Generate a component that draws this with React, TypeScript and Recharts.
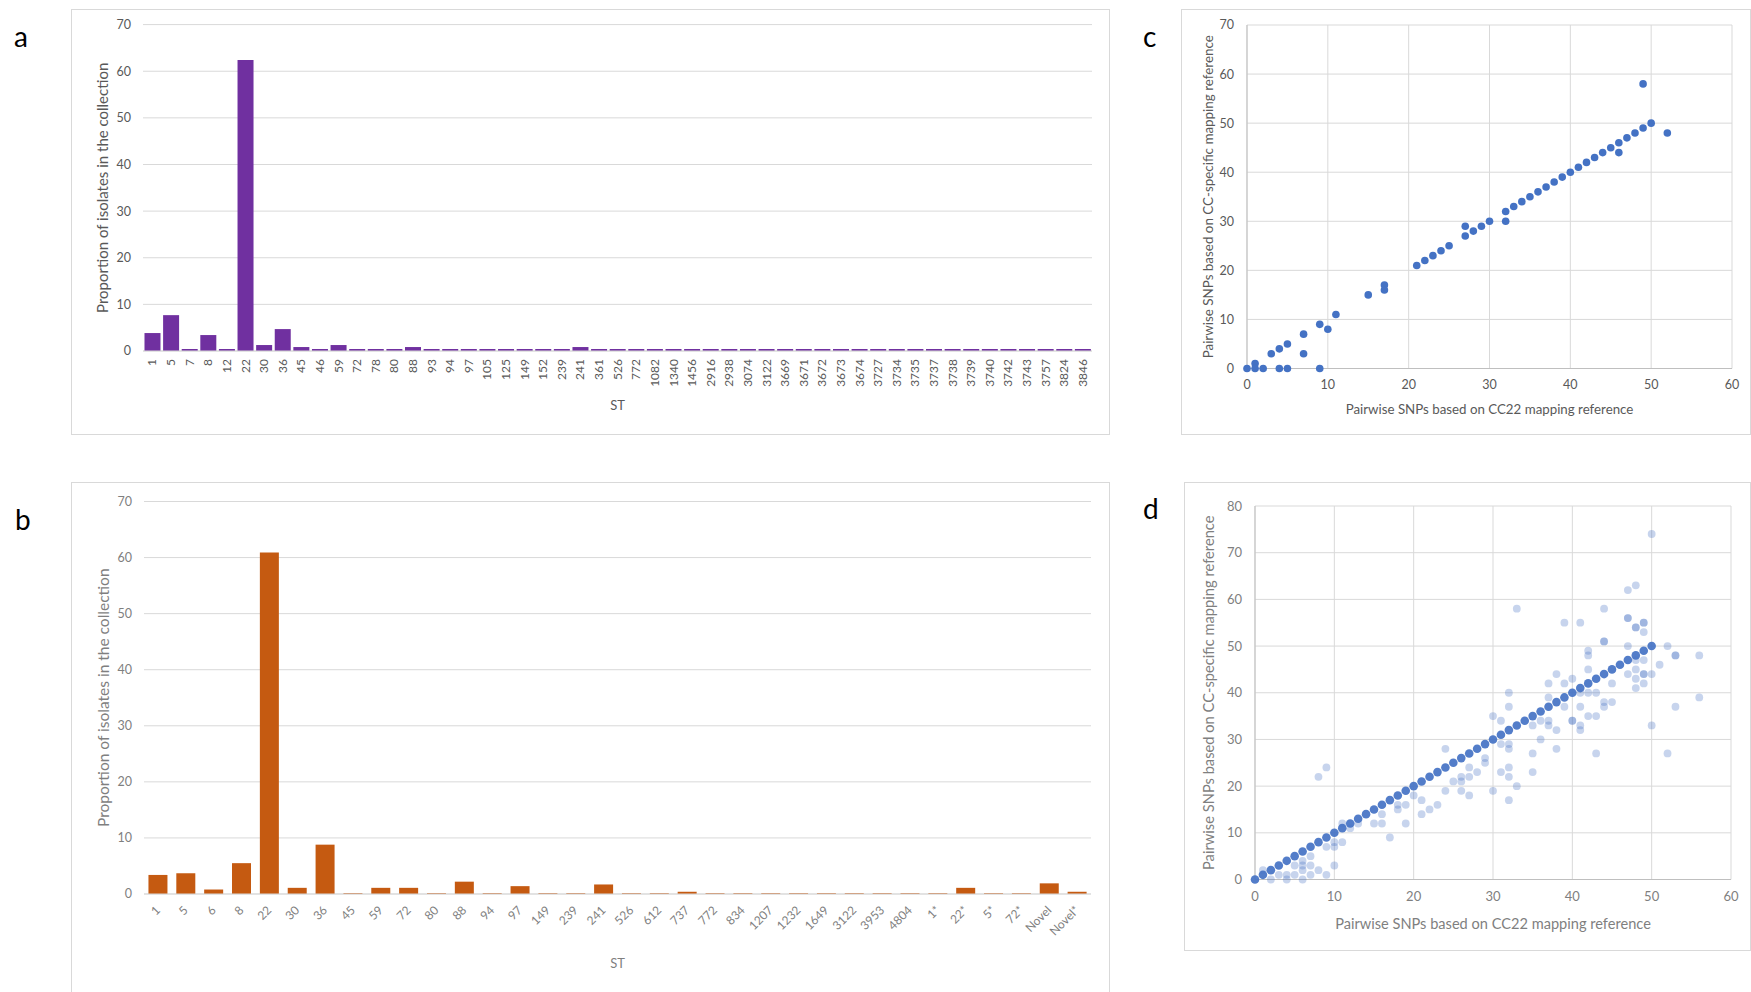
import React from "react";
import { BarChart, Bar, XAxis, YAxis, CartesianGrid, ScatterChart, Scatter, Label } from "recharts";

// panel a: ST distribution, collection 1
const stA = ['1', '5', '7', '8', '12', '22', '30', '36', '45', '46', '59', '72', '78', '80', '88', '93', '94', '97', '105', '125', '149', '152', '239', '241', '361', '526', '772', '1082', '1340', '1456', '2916', '2938', '3074', '3122', '3669', '3671', '3672', '3673', '3674', '3727', '3734', '3735', '3737', '3738', '3739', '3740', '3742', '3743', '3757', '3824', '3846'];
const pctA = [3.85, 7.69, 0.43, 3.42, 0.43, 62.39, 1.28, 4.7, 0.85, 0.43, 1.28, 0.43, 0.43, 0.43, 0.85, 0.43, 0.43, 0.43, 0.43, 0.43, 0.43, 0.43, 0.43, 0.85, 0.43, 0.43, 0.43, 0.43, 0.43, 0.43, 0.43, 0.43, 0.43, 0.43, 0.43, 0.43, 0.43, 0.43, 0.43, 0.43, 0.43, 0.43, 0.43, 0.43, 0.43, 0.43, 0.43, 0.43, 0.43, 0.43, 0.43];

// panel b: ST distribution, collection 2
const stB = ['1', '5', '6', '8', '22', '30', '36', '45', '59', '72', '80', '88', '94', '97', '149', '239', '241', '526', '612', '737', '772', '834', '1207', '1232', '1649', '3122', '3953', '4804', '1*', '22*', '5*', '72*', 'Novel', 'Novel*'];
const pctB = [3.4, 3.7, 0.8, 5.5, 60.9, 1.1, 8.8, 0.15, 1.1, 1.1, 0.15, 2.2, 0.15, 1.4, 0.15, 0.15, 1.7, 0.15, 0.15, 0.4, 0.15, 0.15, 0.15, 0.15, 0.15, 0.15, 0.15, 0.15, 0.15, 1.1, 0.15, 0.15, 1.9, 0.4];

const yTicks70 = [0, 10, 20, 30, 40, 50, 60, 70];
const yTicks80 = [0, 10, 20, 30, 40, 50, 60, 70, 80];
const xTicks60 = [0, 10, 20, 30, 40, 50, 60];

// panel c: pairwise SNPs, CC22 ref vs CC-specific ref
const pairsC = [
  [0, 0], [1, 1], [1, 0], [2, 0], [3, 3], [4, 4], [4, 0], [5, 5], [5, 0], [7, 7], [7, 3], [9, 9], [9, 0], [10, 8], [11, 11],
  [15, 15], [17, 17], [17, 16], [21, 21], [22, 22], [23, 23], [24, 24], [25, 25], [27, 29], [27, 27], [28, 28], [29, 29], [30, 30],
  [32, 32], [32, 30], [33, 33], [34, 34], [35, 35], [36, 36], [37, 37], [38, 38], [39, 39], [40, 40], [41, 41], [42, 42], [43, 43],
  [44, 44], [45, 45], [46, 46], [46, 44], [47, 47], [48, 48], [49, 49], [49, 58], [50, 50], [52, 48],
];

// panel d: pairs that agree between references
const agreeD = [
  [0, 0], [1, 1], [2, 2], [3, 3], [4, 4], [5, 5], [6, 6], [7, 7], [8, 8], [9, 9], [10, 10], [11, 11], [12, 12], [13, 13], [14, 14],
  [15, 15], [16, 16], [17, 17], [18, 18], [19, 19], [20, 20], [21, 21], [22, 22], [23, 23], [24, 24], [25, 25], [26, 26], [27, 27],
  [28, 28], [29, 29], [30, 30], [31, 31], [32, 32], [33, 33], [34, 34], [35, 35], [36, 36], [37, 37], [38, 38], [39, 39], [40, 40],
  [41, 41], [42, 42], [43, 43], [44, 44], [45, 45], [46, 46], [47, 47], [48, 48], [49, 49], [50, 50],
];
// panel d: pairs that differ
const differD = [
  [50, 74], [47, 62], [48, 63], [33, 58], [44, 58], [39, 55], [41, 55], [47, 56], [47, 56], [48, 54], [48, 54], [49, 55], [49, 55],
  [49, 53], [44, 51], [44, 51], [47, 50], [42, 49], [42, 48], [52, 50], [53, 48], [53, 48], [56, 48], [51, 46], [48, 47], [49, 47],
  [48, 45], [49, 44], [49, 44], [50, 44], [47, 44], [48, 43], [49, 42], [48, 41], [38, 44], [37, 42], [39, 42], [40, 43], [42, 45],
  [32, 40], [37, 39], [44, 38], [45, 38], [45, 42], [41, 40], [42, 40], [43, 40], [56, 39], [32, 37], [30, 35], [31, 34], [31, 29],
  [32, 29], [32, 28], [29, 26], [29, 25], [31, 23], [32, 24], [32, 22], [33, 20], [30, 19], [32, 17], [35, 33], [36, 34], [37, 34],
  [37, 33], [38, 32], [36, 30], [35, 27], [35, 23], [38, 28], [39, 37], [40, 34], [40, 34], [41, 37], [41, 33], [41, 32], [42, 35],
  [43, 35], [43, 27], [44, 37], [50, 33], [52, 27], [53, 37], [8, 22], [9, 24], [24, 28], [25, 21], [26, 22], [26, 21], [27, 24],
  [27, 22], [28, 23], [24, 19], [26, 19], [27, 18], [21, 17], [22, 15], [23, 16], [21, 14], [20, 18], [18, 16], [19, 16], [18, 15],
  [16, 14], [15, 12], [16, 12], [19, 12], [17, 9], [13, 12], [11, 12], [12, 11], [9, 7], [10, 7], [11, 8], [10, 8], [10, 3], [7, 5],
  [7, 3], [7, 1], [6, 4], [6, 3], [6, 2], [6, 0], [5, 3], [5, 1], [4, 1], [4, 0], [3, 1], [2, 0], [1, 2], [8, 2], [9, 1],
];

const FONT = "Lato, 'Open Sans', sans-serif";
const GRID = "#d9d9d9";
const DARK_TXT = "#595959";
const SOFT_TXT = "#7f7f7f";
const BLUE = "#4472C4";

const toXY = (pairs: number[][]) => pairs.map(([x, y]) => ({ x, y }));
const barRows = (cats: string[], vals: number[]) => cats.map((st, i) => ({ st, value: vals[i] }));

const Box = ({ x, y, w, h, children }: any) => (
  <div style={{ position: "absolute", left: x, top: y, width: w, height: h, border: `1px solid ${GRID}`, boxSizing: "border-box" }}>
    <div style={{ position: "absolute", left: -1, top: -1 }}>{children}</div>
  </div>
);

const Letter = ({ x, y, text }: any) => (
  <div style={{ position: "absolute", left: x, top: y, fontSize: 28, lineHeight: 1, color: "#000", fontFamily: FONT }}>{text}</div>
);

const VerticalTick = ({ x, y, payload }: any) => (
  <text x={x} y={y} dy="0.35em" textAnchor="end" transform={`rotate(-90, ${x}, ${y})`} fill={DARK_TXT} fontSize={12}>
    {payload.value}
  </text>
);

const SlantTick = ({ x, y, payload }: any) => (
  <text x={x} y={y} dy="0.35em" textAnchor="end" transform={`rotate(-45, ${x}, ${y})`} fill={SOFT_TXT} fontSize={12}>
    {payload.value}
  </text>
);

const dot = (r: number, opacity: number) => (p: any) => <circle cx={p.cx} cy={p.cy} r={r} fill={BLUE} fillOpacity={opacity} />;

const yTitle = "Proportion of isolates in the collection";
const refY = "Pairwise SNPs based on CC-specific mapping reference";
const refX = "Pairwise SNPs based on CC22 mapping reference";

export default function App() {
  return (
    <div style={{ position: "absolute", left: 0, top: 0, width: 1751, height: 992, overflow: "hidden", background: "#fff", fontFamily: FONT }}>
      <Letter x={14} y={22} text="a" />
      <Letter x={15} y={505} text="b" />
      <Letter x={1143} y={22} text="c" />
      <Letter x={1143} y={494} text="d" />

      {/* a */}
      <Box x={71} y={9} w={1039} h={426}>
        <BarChart width={1039} height={426} data={barRows(stA, pctA)} margin={{ top: 15.6, right: 18, left: 0, bottom: 0 }} barCategoryGap="8%">
          <CartesianGrid vertical={false} stroke={GRID} />
          <XAxis dataKey="st" interval={0} height={84} tickLine={false} axisLine={{ stroke: GRID }} tick={<VerticalTick />}>
            <Label value="ST" position="insideBottom" offset={25} fill={DARK_TXT} fontSize={13} />
          </XAxis>
          <YAxis width={72} domain={[0, 70]} ticks={yTicks70} tickLine={false} axisLine={false} tickMargin={6} tick={{ fill: DARK_TXT, fontSize: 12.5 }}>
            <Label value={yTitle} angle={-90} position="insideLeft" offset={32} fill={DARK_TXT} fontSize={15} style={{ textAnchor: "middle" }} />
          </YAxis>
          <Bar dataKey="value" fill="#7030A0" isAnimationActive={false} />
        </BarChart>
      </Box>

      {/* b */}
      <Box x={71} y={482} w={1039} h={520}>
        <BarChart width={1039} height={520} data={barRows(stB, pctB)} margin={{ top: 19.5, right: 19, left: 0, bottom: 0 }} barCategoryGap="16%">
          <CartesianGrid vertical={false} stroke={GRID} />
          <XAxis dataKey="st" interval={0} height={108} tickLine={false} tickMargin={8} axisLine={{ stroke: GRID }} tick={<SlantTick />}>
            <Label value="ST" position="insideBottom" offset={34.5} fill={SOFT_TXT} fontSize={13} />
          </XAxis>
          <YAxis width={73} domain={[0, 70]} ticks={yTicks70} tickLine={false} axisLine={false} tickMargin={6} tick={{ fill: SOFT_TXT, fontSize: 12.5 }}>
            <Label value={yTitle} angle={-90} position="insideLeft" offset={32} fill={SOFT_TXT} fontSize={15.5} style={{ textAnchor: "middle" }} />
          </YAxis>
          <Bar dataKey="value" fill="#C55A11" isAnimationActive={false} />
        </BarChart>
      </Box>

      {/* c */}
      <Box x={1181} y={9} w={570} h={426}>
        <ScatterChart width={570} height={426} margin={{ top: 16, right: 19, left: 0, bottom: 0 }}>
          <CartesianGrid stroke={GRID} />
          <XAxis type="number" dataKey="x" domain={[0, 60]} ticks={xTicks60} height={66.5} tickLine={false} tickMargin={6} axisLine={{ stroke: "#bfbfbf" }} tick={{ fill: DARK_TXT, fontSize: 12.5 }}>
            <Label value={refX} position="insideBottom" offset={21.5} fill={DARK_TXT} fontSize={13.3} />
          </XAxis>
          <YAxis type="number" dataKey="y" domain={[0, 70]} ticks={yTicks70} width={66} tickLine={false} tickMargin={7} axisLine={{ stroke: "#bfbfbf" }} tick={{ fill: DARK_TXT, fontSize: 12.5 }}>
            <Label value={refY} angle={-90} position="insideLeft" offset={27} fill={DARK_TXT} fontSize={13.4} style={{ textAnchor: "middle" }} />
          </YAxis>
          <Scatter data={toXY(pairsC)} shape={dot(3.8, 1)} isAnimationActive={false} />
        </ScatterChart>
      </Box>

      {/* d */}
      <Box x={1184} y={482} w={567} h={469}>
        <ScatterChart width={567} height={469} margin={{ top: 24, right: 20, left: 0, bottom: 0 }}>
          <CartesianGrid stroke={GRID} />
          <XAxis type="number" dataKey="x" domain={[0, 60]} ticks={xTicks60} height={71.5} tickLine={false} tickMargin={6} axisLine={{ stroke: "#bfbfbf" }} tick={{ fill: SOFT_TXT, fontSize: 13 }}>
            <Label value={refX} position="insideBottom" offset={22.5} fill={SOFT_TXT} fontSize={14.6} />
          </XAxis>
          <YAxis type="number" dataKey="y" domain={[0, 80]} ticks={yTicks80} width={71} tickLine={false} tickMargin={7} axisLine={{ stroke: "#bfbfbf" }} tick={{ fill: SOFT_TXT, fontSize: 13 }}>
            <Label value={refY} angle={-90} position="insideLeft" offset={25} fill={SOFT_TXT} fontSize={14.7} style={{ textAnchor: "middle" }} />
          </YAxis>
          <Scatter data={toXY(differD)} shape={dot(3.9, 0.3)} isAnimationActive={false} />
          <Scatter data={toXY(agreeD)} shape={dot(4.3, 0.92)} isAnimationActive={false} />
        </ScatterChart>
      </Box>
    </div>
  );
}
